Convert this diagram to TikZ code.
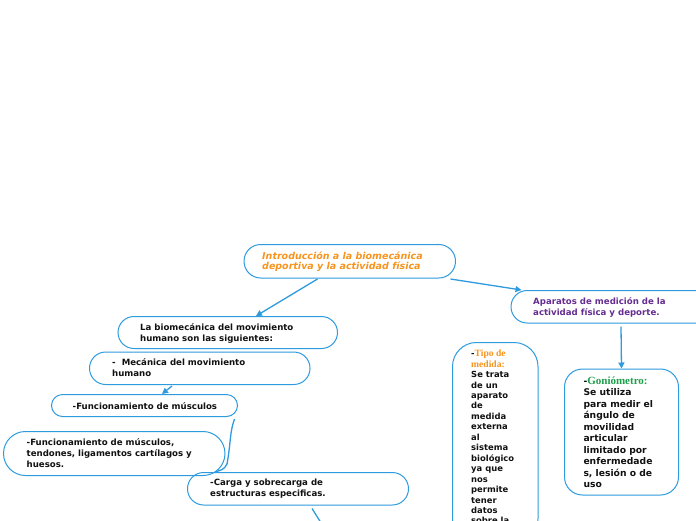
\documentclass[tikz,border=0pt]{standalone}
\usepackage{fontspec}
\setmainfont{DejaVu Sans}
\newfontfamily\serifbold{Liberation Serif}
\usetikzlibrary{arrows.meta,calc}
\definecolor{linkblue}{HTML}{2E9BDF}
\definecolor{titleorange}{HTML}{F7941D}
\definecolor{aparpurple}{HTML}{662D91}
\definecolor{gongreen}{HTML}{1DA04A}
\definecolor{inkblack}{HTML}{111111}
\tikzset{
  box/.style={draw=linkblue, line width=1pt, inner sep=0pt, anchor=north west},
  txt/.style={anchor=base west, inner sep=0pt, align=left, text=inkblack},
  conn/.style={draw=linkblue, line width=1.3pt},
  tip/.style={-{Triangle[length=6pt,width=6pt]}},
  bodyfont/.style={font=\fontsize{8.6}{11}\selectfont\bfseries}
}
\begin{document}
\begin{tikzpicture}[x=1pt,y=-1pt]
\clip (0,0) rectangle (696,520);
\fill[white] (0,0) rectangle (696,520);
% boxes
\node[box, minimum width=211.5pt, minimum height=33.5pt, rounded corners=16.7pt] (main) at (243.5,244) {};
\node[box, minimum width=219.5pt, minimum height=32pt, rounded corners=16pt] (bio) at (117.5,316) {};
\node[box, minimum width=220.5pt, minimum height=32.5pt, rounded corners=16.2pt] (meca) at (89,351.5) {};
\node[box, minimum width=186pt, minimum height=22pt, rounded corners=11pt] (func) at (51,394) {};
\node[box, minimum width=221.5pt, minimum height=44pt, rounded corners=22pt] (funct) at (3,431) {};
\node[box, minimum width=221pt, minimum height=32.5pt, rounded corners=16.2pt] (carga) at (187,472) {};
\node[box, minimum width=220pt, minimum height=32.5pt, rounded corners=16.2pt] (apar) at (510.5,290) {};
\node[box, minimum width=85.5pt, minimum height=200pt, rounded corners=24pt] (tipo) at (452,342) {};
\node[box, minimum width=114pt, minimum height=126pt, rounded corners=18pt] (gonio) at (564,368.5) {};
% texts (anchored at the baseline of the last line)
\node[txt, font=\fontsize{9.5}{10}\selectfont\bfseries\itshape, text=titleorange] (maintxt) at (262,269)
  {Introducción a la biomecánica\\deportiva y la actividad física};
\node[txt, bodyfont] (biotxt) at (140,341) {La biomecánica del movimiento\\humano son las siguientes:};
\node[txt, bodyfont] (mecatxt) at (112,376.5) {-\ \ Mecánica del movimiento\\humano};
\node[txt, bodyfont] (functxt) at (72.5,409) {-Funcionamiento de músculos};
\node[txt, bodyfont] (functtxt) at (26.5,467) {-Funcionamiento de músculos,\\tendones, ligamentos cartílagos y\\huesos.};
\node[txt, bodyfont] (cargatxt) at (210,496.5) {-Carga y sobrecarga de\\estructuras especificas.};
\node[txt, bodyfont, text=aparpurple] (apartxt) at (533,315) {Aparatos de medición de la\\actividad física y deporte.};
\node[txt, font=\fontsize{8.4}{10.45}\selectfont\bfseries] (tipotxt) at (471,523.9)
  {-{\serifbold\fontsize{9.6}{10.45}\selectfont\color{titleorange}Tipo de}\\
   {\serifbold\fontsize{9.6}{10.45}\selectfont\color{titleorange}medida:}\\
   Se trata\\de un\\aparato\\de\\medida\\externa\\al\\sistema\\biológico\\ya que\\nos\\permite\\tener\\datos\\sobre la};
\node[txt, font=\fontsize{9.2}{11.5}\selectfont\bfseries] (goniotxt) at (583.3,487.5)
  {-{\serifbold\fontsize{11}{11.5}\selectfont\color{gongreen}Goniómetro:}\\
   Se utiliza\\para medir el\\ángulo de\\movilidad\\articular\\limitado por\\enfermedade\\s, lesión o de\\uso};
% connectors
\draw[conn, tip] ($(main.south west)+(74,0.5)$) -- ($(bio.north west)+(138.5,0)$);
\draw[conn, tip] ($(main.south east)+(-5.5,0.5)$) -- ($(apar.north west)+(11,0)$);
\draw[conn, tip] ($(apar.south west)+(110.5,3)$) -- (gonio.north);
\draw[conn, tip] ($(meca.south west)+(83,1)$) -- ($(func.north west)+(111,0)$);
\draw[conn] ($(func.south east)+(-3.5,2)$) .. controls +(-5,14) and +(4,-22) .. ($(carga.north west)+(40,-8)$)
  .. controls +(-3,6) and +(6,-2) .. ($(carga.north west)+(28,0)$);
\coordinate (cargaend) at (320.5,522);
\draw[conn] ($(carga.south west)+(125,3)$) -- (cargaend);
\end{tikzpicture}
\end{document}
